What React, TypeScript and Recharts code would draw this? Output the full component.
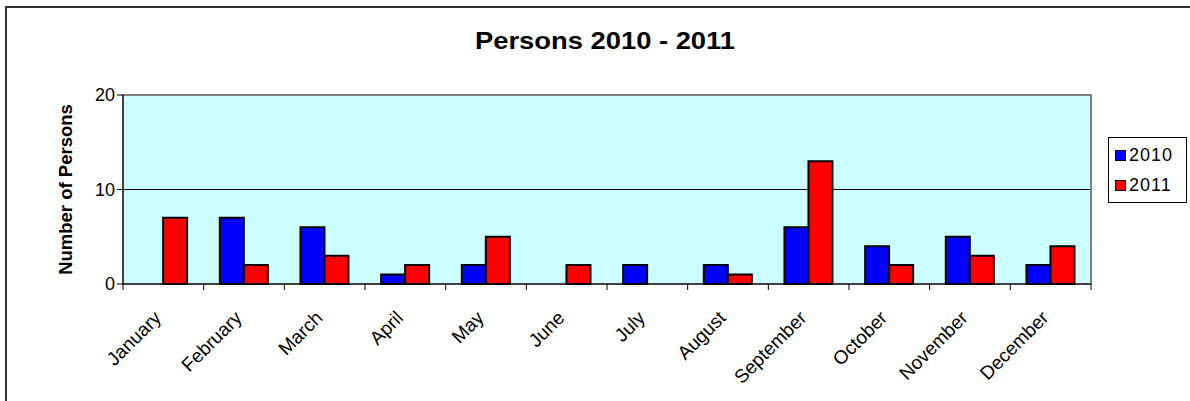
import { BarChart, Bar, XAxis, YAxis, CartesianGrid, ReferenceArea, Legend, Label } from "recharts";

const months = [
  "January", "February", "March", "April", "May", "June",
  "July", "August", "September", "October", "November", "December",
];
const persons2010 = [0, 7, 6, 1, 2, 0, 2, 2, 6, 4, 5, 2];
const persons2011 = [7, 2, 3, 2, 5, 2, 0, 1, 13, 2, 3, 4];
const yTicks = [0, 10, 20];
const seriesNames = ["2010", "2011"];
const seriesColors = ["#0000FF", "#FF0000"];

const data = months.map((month, i) => ({
  month,
  y2010: persons2010[i],
  y2011: persons2011[i],
}));

const FONT = "'Liberation Sans', Arial, sans-serif";

// label plus a tick mark on the category boundary (and the last edge)
function MonthTick({ x, y, payload, index }: any) {
  const half = payload.offset || 0;
  const last = index === months.length - 1;
  return (
    <g>
      <line x1={x - half} x2={x - half} y1={y} y2={y + 6} stroke="#000" />
      {last && <line x1={x + half} x2={x + half} y1={y} y2={y + 6} stroke="#000" />}
      <g transform={`translate(${x - 1},${y + 35})`}>
        <text textAnchor="end" transform="rotate(-45)" fontSize={19} fontFamily={FONT} fill="#000">
          {payload.value}
        </text>
      </g>
    </g>
  );
}

function LegendBox() {
  return (
    <div style={{ border: "1px solid #000", background: "#fff", width: 77, height: 62, paddingTop: 2, boxSizing: "content-box" }}>
      {seriesNames.map((name, i) => (
        <div key={name} style={{ display: "flex", alignItems: "center", height: 30, paddingLeft: 6 }}>
          <span style={{ width: 9, height: 9, background: seriesColors[i], border: "1px solid #000", marginRight: 3 }} />
          <span style={{ fontFamily: FONT, fontSize: 18, letterSpacing: 1, color: "#000" }}>{name}</span>
        </div>
      ))}
    </div>
  );
}

export default function App() {
  return (
    <div
      style={{
        position: "absolute",
        left: 5,
        top: 6,
        width: 1185,
        height: 395,
        boxSizing: "border-box",
        borderTop: "2px solid #333",
        borderLeft: "2px solid #333",
        overflow: "hidden",
        background: "#fff",
      }}
    >
      <svg width={1181} height={60} style={{ position: "absolute", left: 0, top: 0 }}>
        <text x={598} y={41} textAnchor="middle" fontSize={24} fontWeight="bold" fontFamily={FONT} textLength={260} lengthAdjust="spacingAndGlyphs">
          Persons 2010 - 2011
        </text>
      </svg>
      <BarChart
        width={1181}
        height={385}
        data={data}
        margin={{ top: 87, right: 97, bottom: 9, left: 56 }}
        barCategoryGap="20%"
        barGap={0}
      >
        <CartesianGrid fill="#CCFFFF" vertical={false} stroke="#000" />
        <ReferenceArea y1={0} y2={20} fill="none" stroke="#808080" strokeWidth={2} />
        <XAxis
          dataKey="month"
          height={100}
          stroke="#000"
          tickLine={false}
          tickSize={0}
          tickMargin={0}
          interval={0}
          tick={<MonthTick />}
        />
        <YAxis
          domain={[0, 20]}
          ticks={yTicks}
          width={60}
          tickSize={6}
          tickMargin={2}
          stroke="#000"
          tick={{ fill: "#000", fontSize: 18, fontFamily: FONT }}
        >
          <Label
            content={({ viewBox }: any) => {
              const cx = viewBox.x + 8.7;
              const cy = viewBox.y + viewBox.height / 2;
              return (
                <text x={cx} y={cy} transform={`rotate(-90, ${cx}, ${cy})`} textAnchor="middle" fontSize={18.5} fontWeight="bold" fontFamily={FONT} fill="#000">
                  Number of Persons
                </text>
              );
            }}
          />
        </YAxis>
        <Legend
          layout="vertical"
          align="center"
          verticalAlign="middle"
          wrapperStyle={{ left: 1101, top: 129, width: "auto" }}
          content={() => <LegendBox />}
        />
        <Bar dataKey="y2010" name={seriesNames[0]} fill={seriesColors[0]} stroke="#000" strokeWidth={2} isAnimationActive={false} />
        <Bar dataKey="y2011" name={seriesNames[1]} fill={seriesColors[1]} stroke="#000" strokeWidth={2} isAnimationActive={false} />
      </BarChart>
    </div>
  );
}
